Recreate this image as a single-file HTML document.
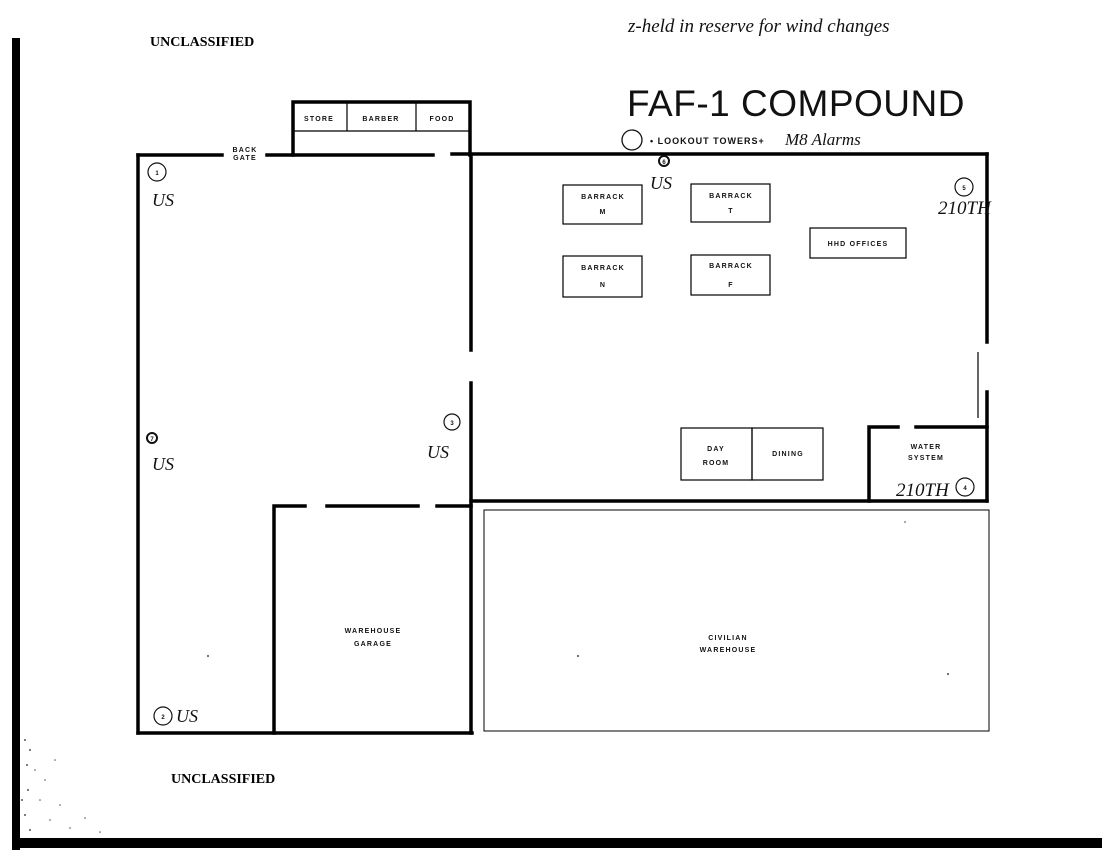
<!DOCTYPE html>
<html><head><meta charset="utf-8"><style>
html,body{margin:0;padding:0;background:#fff;}
svg{display:block;}
.s{font-family:"Liberation Sans",sans-serif;font-weight:bold;font-size:7px;letter-spacing:1.2px;text-anchor:middle;fill:#111;}
.h{font-family:"Liberation Serif",serif;font-style:italic;fill:#111;}
.n{font-family:"Liberation Sans",sans-serif;font-weight:bold;font-size:6px;text-anchor:middle;fill:#111;}
</style></head><body>
<svg width="1102" height="850" viewBox="0 0 1102 850" xmlns="http://www.w3.org/2000/svg">
<rect width="1102" height="850" fill="#fff"/>
<rect x="12" y="38" width="8" height="812" fill="#000"/>
<rect x="12" y="838" width="1090" height="10" fill="#000"/>
<g fill="#555">
<circle cx="25" cy="740" r="1"/><circle cx="30" cy="750" r="1"/><circle cx="27" cy="765" r="1"/><circle cx="35" cy="770" r="0.8"/><circle cx="45" cy="780" r="0.8"/><circle cx="28" cy="790" r="1"/><circle cx="40" cy="800" r="0.8"/><circle cx="60" cy="805" r="0.8"/><circle cx="25" cy="815" r="1"/><circle cx="50" cy="820" r="0.8"/><circle cx="85" cy="818" r="0.8"/><circle cx="30" cy="830" r="1"/><circle cx="70" cy="828" r="0.8"/><circle cx="100" cy="832" r="0.8"/><circle cx="55" cy="760" r="0.8"/><circle cx="22" cy="800" r="1"/>
</g>
<text x="150" y="46" font-family="Liberation Serif,serif" font-weight="bold" font-size="14">UNCLASSIFIED</text>
<text x="171" y="783" font-family="Liberation Serif,serif" font-weight="bold" font-size="14">UNCLASSIFIED</text>
<text x="628" y="32" class="h" font-size="19">z-held in reserve for wind changes</text>
<text x="627" y="116" font-family="Liberation Sans,sans-serif" font-size="37" letter-spacing="0.5" fill="#111">FAF-1 COMPOUND</text>
<circle cx="632" cy="140" r="10" fill="none" stroke="#111" stroke-width="1.3"/>
<text x="650" y="144" font-family="Liberation Sans,sans-serif" font-weight="bold" font-size="9" letter-spacing="1" fill="#111">• LOOKOUT TOWERS+</text>
<text x="785" y="145" class="h" font-size="17">M8 Alarms</text>

<g stroke="#000" stroke-width="3.5" fill="none" stroke-linecap="square">
<line x1="138" y1="155" x2="222" y2="155"/>
<line x1="267" y1="155" x2="433" y2="155"/>
<line x1="452" y1="154" x2="987" y2="154"/>
<polyline points="293,155 293,102 470,102 470,155"/>
<line x1="138" y1="155" x2="138" y2="733"/>
<line x1="138" y1="733" x2="472" y2="733"/>
<line x1="471" y1="155" x2="471" y2="350"/>
<line x1="471" y1="383" x2="471" y2="733"/>
<line x1="987" y1="154" x2="987" y2="342"/>
<line x1="987" y1="392" x2="987" y2="501"/>
<line x1="471" y1="501" x2="987" y2="501"/>
<polyline points="898,427 869,427 869,501"/>
<line x1="916" y1="427" x2="987" y2="427"/>
<polyline points="305,506 274,506 274,733"/>
<line x1="327" y1="506" x2="418" y2="506"/>
<line x1="437" y1="506" x2="471" y2="506"/>
</g>
<g stroke="#000" stroke-width="1.2" fill="none">
<line x1="293" y1="131" x2="470" y2="131"/>
<line x1="347" y1="102" x2="347" y2="131"/>
<line x1="416" y1="102" x2="416" y2="131"/>
<line x1="978" y1="352" x2="978" y2="418"/>
<rect x="563" y="185" width="79" height="39"/>
<rect x="691" y="184" width="79" height="38"/>
<rect x="563" y="256" width="79" height="41"/>
<rect x="691" y="255" width="79" height="40"/>
<rect x="810" y="228" width="96" height="30"/>
<rect x="681" y="428" width="71" height="52"/>
<rect x="752" y="428" width="71" height="52"/>
<rect x="484" y="510" width="505" height="221" stroke-width="1"/>
</g>
<text x="319" y="121" class="s">STORE</text>
<text x="381" y="121" class="s">BARBER</text>
<text x="442" y="121" class="s">FOOD</text>
<text x="245" y="152" class="s" font-size="6">BACK</text>
<text x="245" y="160" class="s" font-size="6">GATE</text>
<text x="603" y="199" class="s">BARRACK</text><text x="603" y="214" class="s">M</text>
<text x="731" y="198" class="s">BARRACK</text><text x="731" y="213" class="s">T</text>
<text x="603" y="270" class="s">BARRACK</text><text x="603" y="287" class="s">N</text>
<text x="731" y="268" class="s">BARRACK</text><text x="731" y="287" class="s">F</text>
<text x="858" y="246" class="s">HHD OFFICES</text>
<text x="716" y="451" class="s">DAY</text><text x="716" y="465" class="s">ROOM</text>
<text x="788" y="456" class="s">DINING</text>
<text x="926" y="449" class="s">WATER</text><text x="926" y="460" class="s">SYSTEM</text>
<text x="373" y="633" class="s">WAREHOUSE</text><text x="373" y="646" class="s">GARAGE</text>
<text x="728" y="640" class="s">CIVILIAN</text><text x="728" y="652" class="s">WAREHOUSE</text>

<g fill="none" stroke="#111" stroke-width="1.2">
<circle cx="157" cy="172" r="9"/>
<circle cx="163" cy="716" r="9"/>
<circle cx="452" cy="422" r="8"/>
<circle cx="965" cy="487" r="9"/>
<circle cx="964" cy="187" r="9"/>
<circle cx="152" cy="438" r="5" stroke-width="2"/>
<circle cx="664" cy="161" r="5" stroke-width="2"/>
</g>
<text x="157" y="175" class="n">1</text>
<text x="163" y="719" class="n">2</text>
<text x="452" y="425" class="n">3</text>
<text x="965" y="490" class="n">4</text>
<text x="964" y="190" class="n">5</text>
<text x="152" y="441" class="n">7</text>
<text x="664" y="164" class="n">6</text>
<text x="152" y="206" class="h" font-size="18">US</text>
<text x="152" y="470" class="h" font-size="18">US</text>
<text x="427" y="458" class="h" font-size="18">US</text>
<text x="650" y="189" class="h" font-size="18">US</text>
<text x="176" y="722" class="h" font-size="18">US</text>
<text x="938" y="214" class="h" font-size="19">210TH</text>
<text x="896" y="496" class="h" font-size="19">210TH</text>
<g fill="#444"><circle cx="208" cy="656" r="1"/><circle cx="578" cy="656" r="1"/><circle cx="948" cy="674" r="1"/><circle cx="905" cy="522" r="0.8"/></g>
</svg>
</body></html>
